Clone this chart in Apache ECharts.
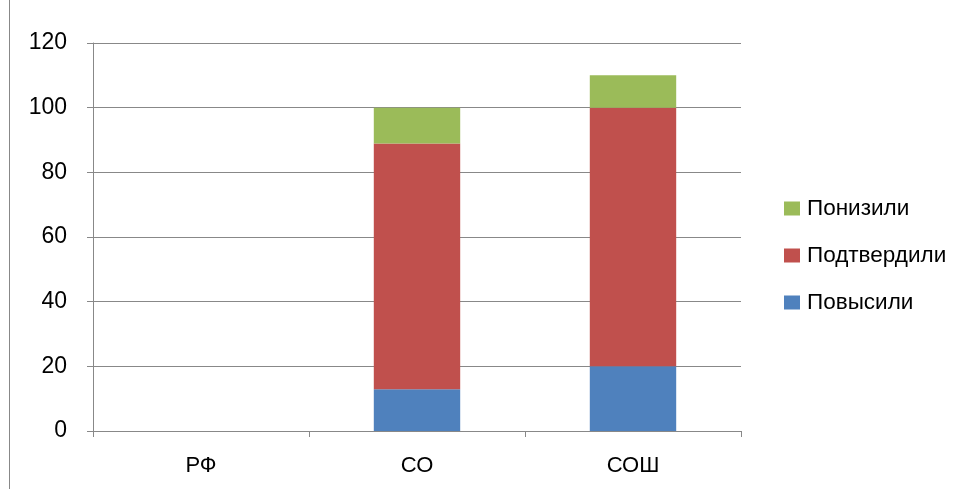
<!DOCTYPE html>
<html><head><meta charset="utf-8">
<script src="https://cdn.jsdelivr.net/npm/echarts@6/dist/echarts.min.js"></script>
<style>html,body{margin:0;padding:0;background:#fff}#c{width:974px;height:489px}</style>
</head><body><div id="c"></div>
<script>
var categories = ['РФ', 'СО', 'СОШ'];
var povysili = [0, 12.9, 20];
var podtverdili = [0, 76.0, 80];
var ponizili = [0, 11.1, 10];
var yTicks = {min: 0, max: 120, interval: 20};

var font = 'Liberation Sans';
var chart = echarts.init(document.getElementById('c'), null, {renderer: 'canvas'});
chart.setOption({
  animation: false,
  backgroundColor: '#fff',
  grid: {left: 93, right: 233, top: 43, bottom: 58},
  legend: {
    orient: 'vertical', left: 779, top: 192, itemGap: 24,
    itemWidth: 16, itemHeight: 14, icon: 'rect',
    textStyle: {fontFamily: font, fontSize: 22.5, color: '#000', padding: [0,0,0,2]},
    data: ['Понизили', 'Подтвердили', 'Повысили']
  },
  xAxis: {
    type: 'category', data: categories,
    axisLine: {lineStyle: {color: '#888', width: 1}},
    axisTick: {show: true, length: 6, lineStyle: {color: '#888'}},
    axisLabel: {fontFamily: font, fontSize: 22, color: '#000', margin: 24}
  },
  yAxis: {
    type: 'value', min: yTicks.min, max: yTicks.max, interval: yTicks.interval,
    axisLine: {show: true, lineStyle: {color: '#888', width: 1}},
    axisTick: {show: true, length: 6, lineStyle: {color: '#888'}},
    splitLine: {lineStyle: {color: '#888', width: 1}},
    axisLabel: {fontFamily: font, fontSize: 23, color: '#000', margin: 26}
  },
  series: [
    {name: 'Повысили', type: 'bar', stack: 's', data: povysili, barWidth: '40%', itemStyle: {color: '#4F81BD'}},
    {name: 'Подтвердили', type: 'bar', stack: 's', data: podtverdili, barWidth: '40%', itemStyle: {color: '#C0504D'}},
    {name: 'Понизили', type: 'bar', stack: 's', data: ponizili, barWidth: '40%', itemStyle: {color: '#9BBB59'}}
  ],
  graphic: [{type: 'line', shape: {x1: 9.5, y1: 0, x2: 9.5, y2: 489}, style: {stroke: '#888', lineWidth: 1}}]
});
</script></body></html>
